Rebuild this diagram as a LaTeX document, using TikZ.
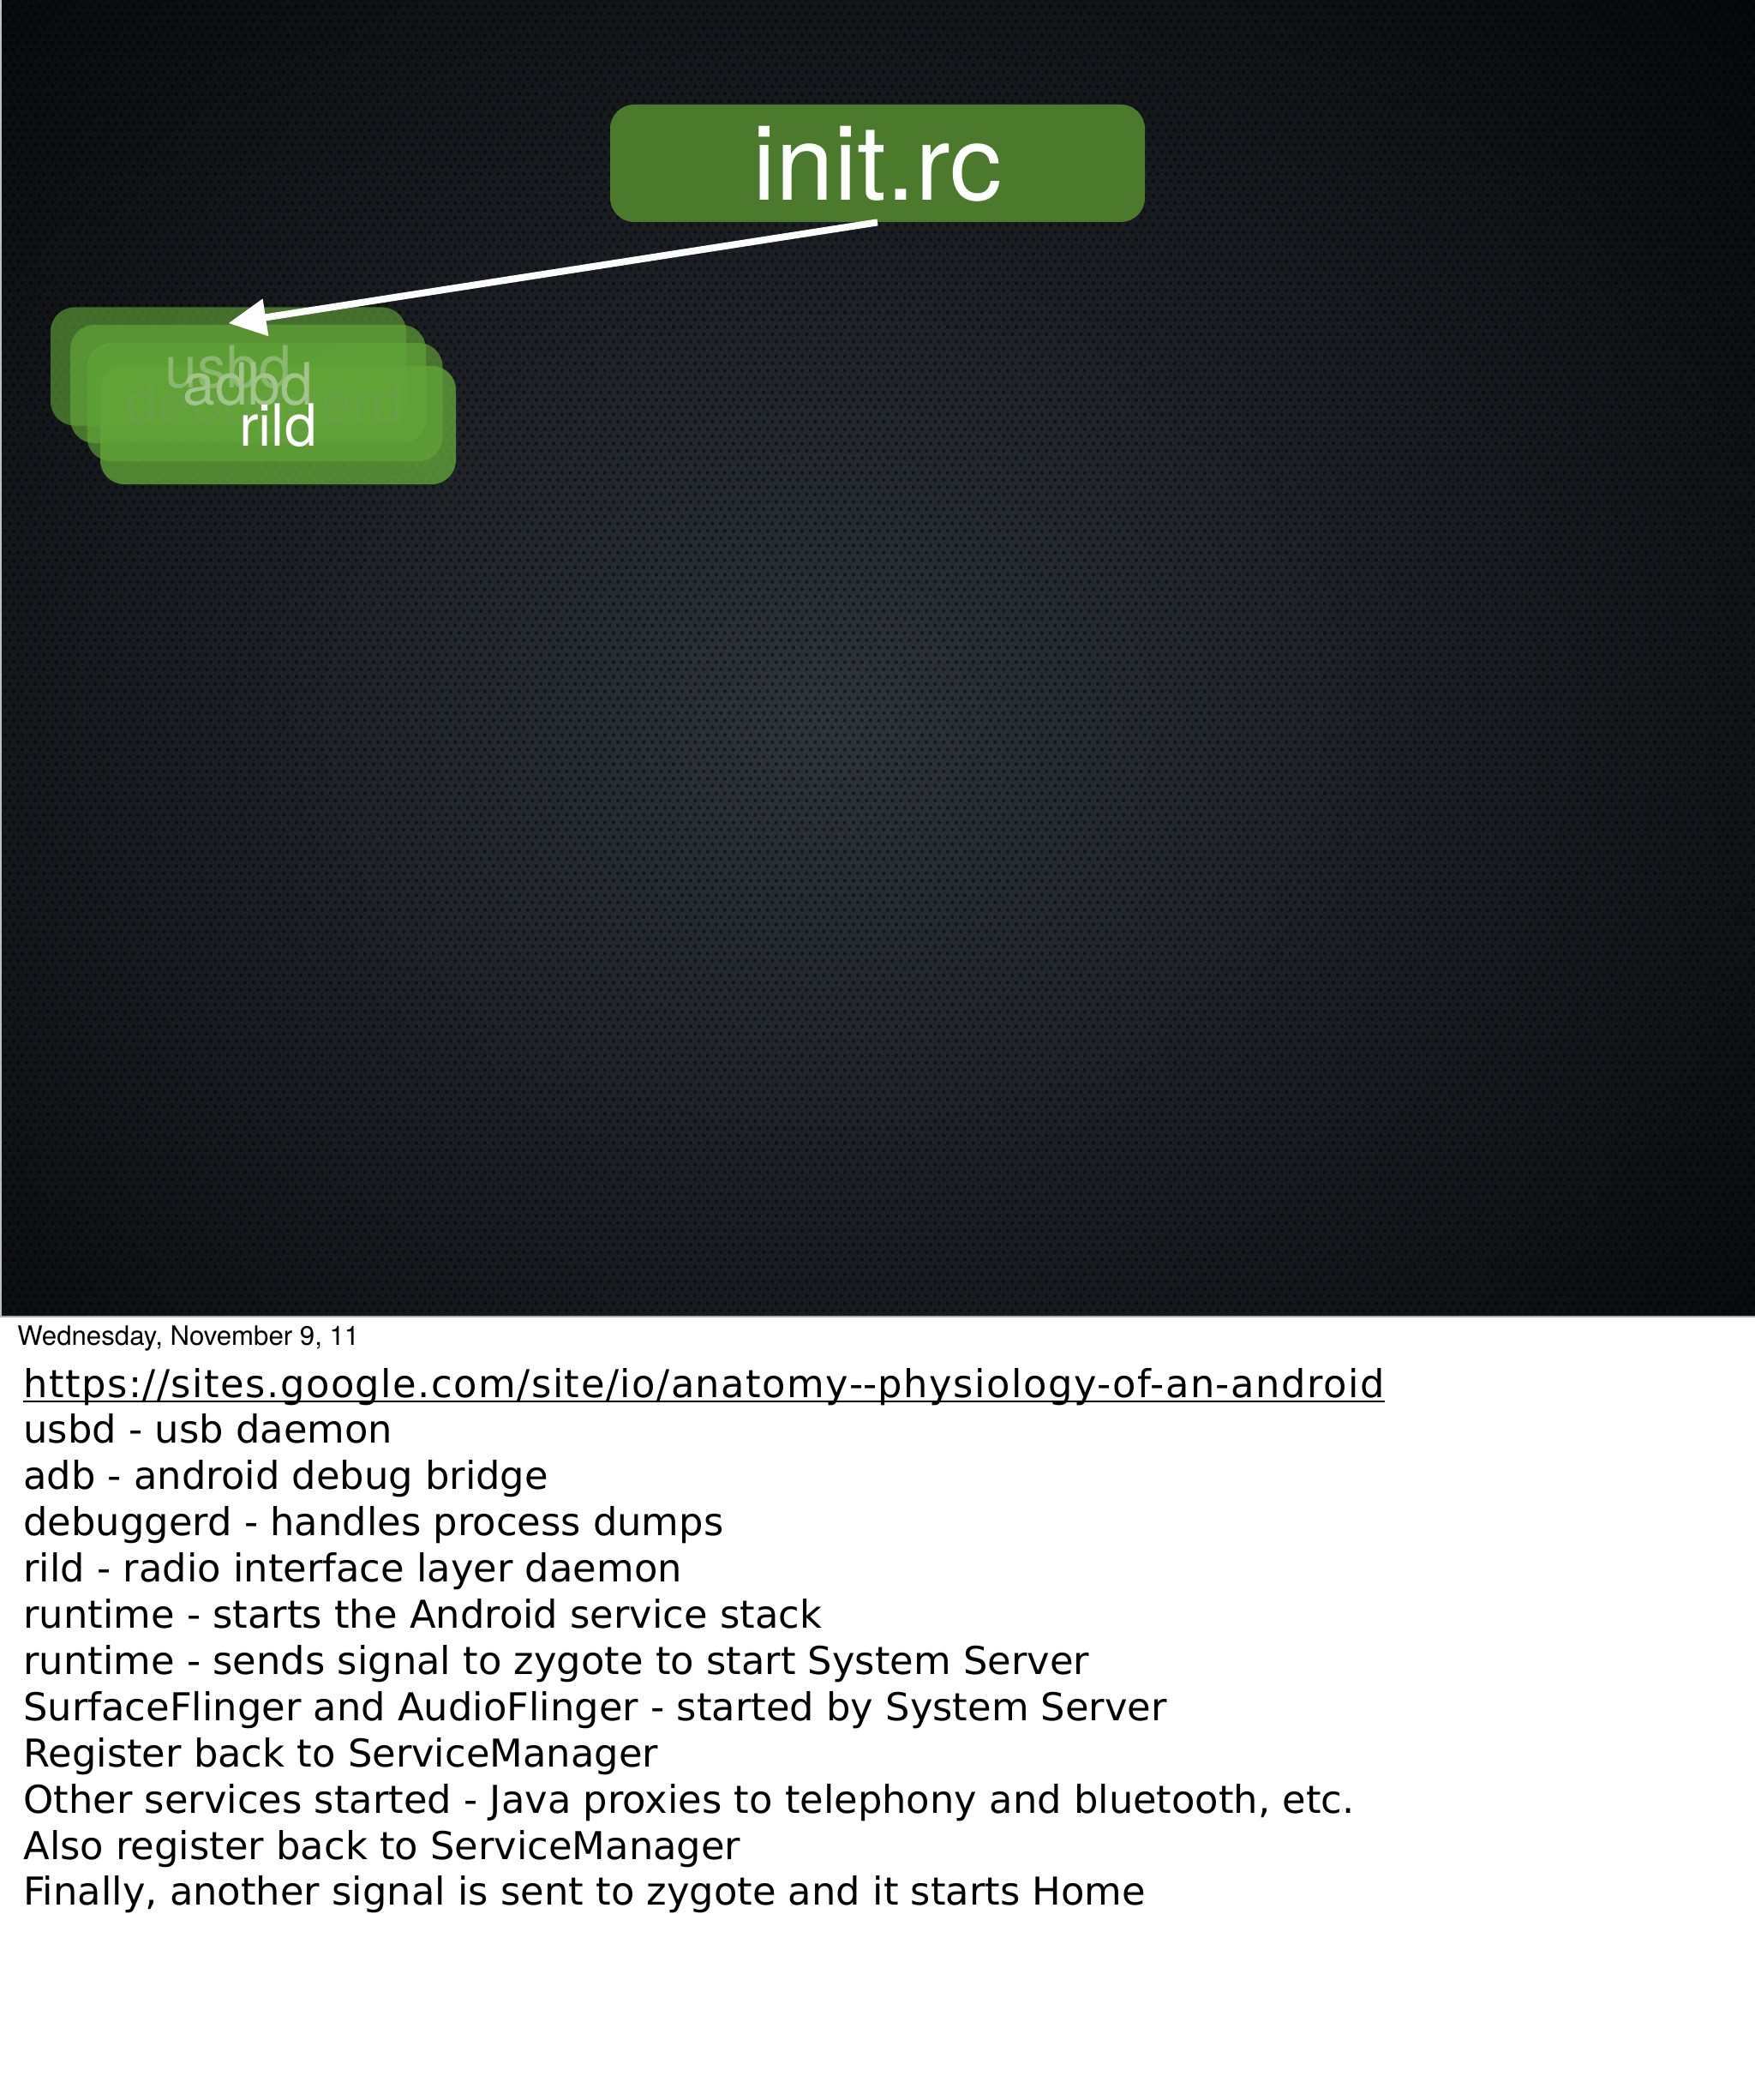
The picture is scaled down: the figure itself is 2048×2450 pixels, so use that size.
\documentclass[tikz,border=0pt]{standalone}
\usepackage{fontspec}
\newfontfamily\heros{TeX Gyre Heros}
\newfontfamily\notefont{DejaVu Sans}
\newfontfamily\urlfont{DejaVu Sans}[LetterSpace=3.3]
\usetikzlibrary{arrows.meta,patterns}
\definecolor{bgin}{RGB}{46,52,58}
\definecolor{bgout}{RGB}{3,4,6}
\definecolor{initgreen}{RGB}{76,122,44}
\definecolor{boxgreen}{RGB}{98,165,56}
\definecolor{boxface}{RGB}{92,154,54}
\pgfdeclarepatternformonly{hexmesh}{\pgfqpoint{0pt}{0pt}}{\pgfqpoint{5pt}{8.66pt}}{\pgfqpoint{5pt}{8.66pt}}{%
  \pgfpathcircle{\pgfqpoint{1.25pt}{2.165pt}}{1.2pt}%
  \pgfpathcircle{\pgfqpoint{3.75pt}{6.495pt}}{1.2pt}%
  \pgfusepath{fill}}
\tikzset{
  gbox/.style={rectangle, rounded corners=14pt, minimum width=207.5pt, minimum height=69pt, inner sep=0pt, fill=boxgreen},
  initbox/.style={rectangle, rounded corners=14pt, minimum width=312pt, minimum height=68.5pt, inner sep=0pt, fill=initgreen, text=white, text depth=0pt, font=\heros\fontsize{61pt}{70pt}\selectfont},
  lbl/.style={text=white, inner sep=0pt, text depth=0pt, font=\heros\fontsize{34pt}{40pt}\selectfont},
  note/.style={anchor=base west, inner sep=0pt, text=black, font=\notefont\fontsize{22.4pt}{27pt}\selectfont},
  datefont/.style={anchor=base west, inner sep=0pt, text=black, font=\heros\fontsize{15.6pt}{18pt}\selectfont},
  connector/.style={white, line width=4pt, -{Triangle[length=22pt,width=21pt]}}
}
\begin{document}
\begin{tikzpicture}[x=0.5pt,y=-0.5pt]
\useasboundingbox (0,0) rectangle (2048,2450);
\fill[white] (0,0) rectangle (2048,2450);
% slide background
\begin{scope}
\clip (0,0) rectangle (2048,1536);
\fill[bgout] (0,0) rectangle (2048,1536);
\shade[inner color=bgin, outer color=bgout] (960,840) ellipse [x radius=1600, y radius=1300];
\end{scope}
\fill[pattern=hexmesh, pattern color=black, fill opacity=0.45] (0,0) rectangle (2048,1536);
\draw[gray!70, line width=1pt] (0,1536) -- (2048,1536);
\draw[gray!50, line width=0.8pt] (0.8,0) -- (0.8,1536);

% init.rc
\node[initbox] (init) at (1024,190.5) {init.rc};

% stacked daemon boxes
\node[gbox, fill opacity=0.62] (b1) at (266.5,427.5) {};
\node[gbox, fill opacity=0.68] (b2) at (289.5,448) {};
\node[gbox, fill opacity=0.66] (b3) at (309,469) {};
\node[gbox, fill opacity=0.78] (b4) at (324.5,496) {};
\node[lbl, text=boxface!72!white] (t1) at (b1) {usbd};
\node[lbl, text=boxface!93!white] (t3) at (b3) {debuggerd};
\node[lbl, text=boxface!58!white] (t2) at (b2) {adbd};
\node[lbl] (t4) at (b4) {rild};

% connector
\draw[connector] (init.south) -- ([yshift=-9.5pt]b1.north);

% notes
\node[datefont] (date) at (20,1569) {Wednesday, November 9, 11};
\node[note, font=\urlfont\fontsize{22.4pt}{27pt}\selectfont] (url) at (27,1630) {https://sites.google.com/site/io/anatomy-\kern0pt-physiology-of-an-android};
\draw[black, line width=1pt] ([yshift=-2.5pt]url.base west) -- ([yshift=-2.5pt]url.base east);
\node[note] (n1) at (27,1683.9) {usbd - usb daemon};
\node[note] (n2) at (27,1737.8) {adb - android debug bridge};
\node[note] (n3) at (27,1791.7) {debuggerd - handles process dumps};
\node[note] (n4) at (27,1845.6) {rild - radio interface layer daemon};
\node[note] (n5) at (27,1899.5) {runtime - starts the Android service stack};
\node[note] (n6) at (27,1953.4) {runtime - sends signal to zygote to start System Server};
\node[note] (n7) at (27,2007.3) {SurfaceFlinger and AudioFlinger - started by System Server};
\node[note] (n8) at (27,2061.2) {Register back to ServiceManager};
\node[note] (n9) at (27,2115.1) {Other services started - Java proxies to telephony and bluetooth, etc.};
\node[note] (n10) at (27,2169) {Also register back to ServiceManager};
\node[note] (n11) at (27,2222.9) {Finally, another signal is sent to zygote and it starts Home};
\end{tikzpicture}
\end{document}
